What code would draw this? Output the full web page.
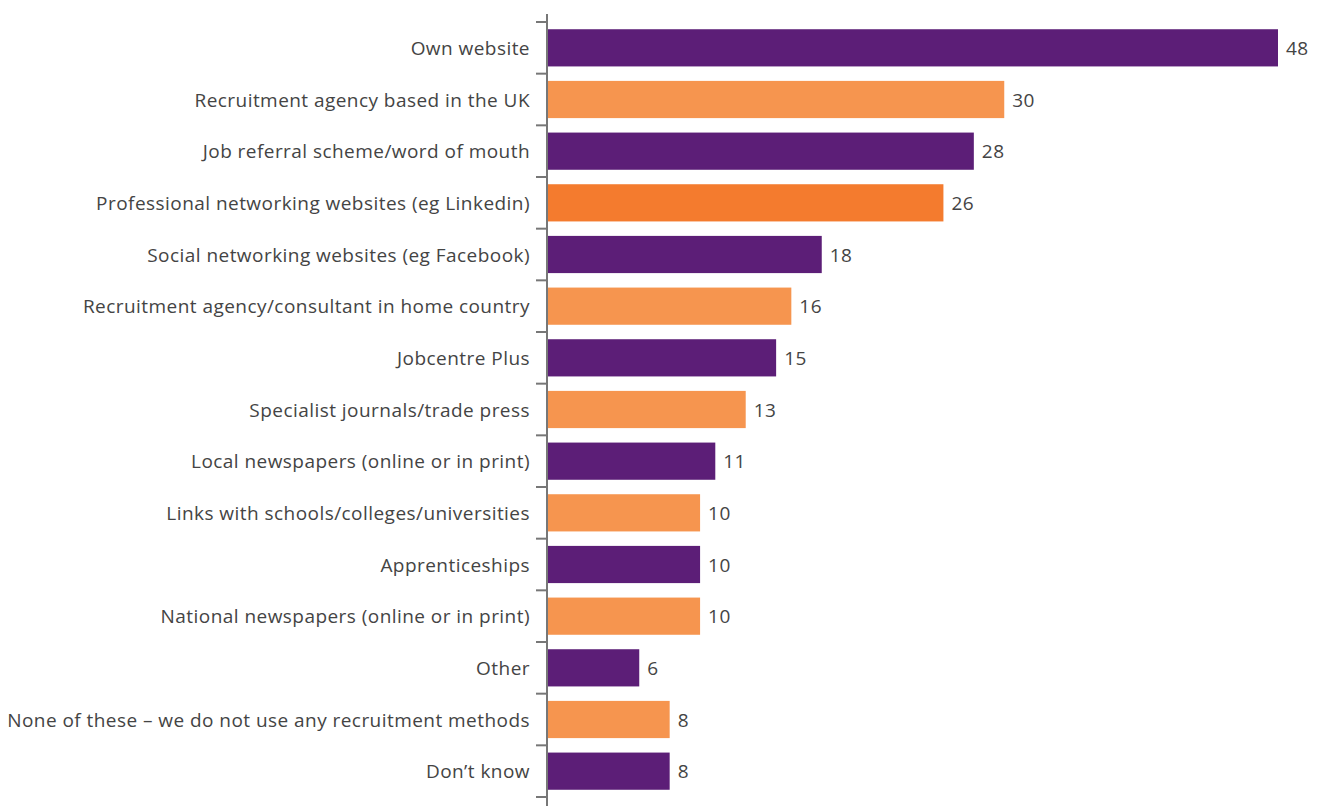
<!DOCTYPE html>
<html>
<head>
<meta charset="utf-8">
<script src="https://cdn.jsdelivr.net/npm/d3@7"></script>
<style>
  body { margin: 0; background: #fff; }
  text { font-family: 'Open Sans', sans-serif; letter-spacing: 0.45px; }
</style>
</head>
<body>
<div id="chart"></div>
<script>
const categories = [
  'Own website',
  'Recruitment agency based in the UK',
  'Job referral scheme/word of mouth',
  'Professional networking websites (eg Linkedin)',
  'Social networking websites (eg Facebook)',
  'Recruitment agency/consultant in home country',
  'Jobcentre Plus',
  'Specialist journals/trade press',
  'Local newspapers (online or in print)',
  'Links with schools/colleges/universities',
  'Apprenticeships',
  'National newspapers (online or in print)',
  'Other',
  'None of these – we do not use any recruitment methods',
  'Don’t know'
]

const values = [48, 30, 28, 26, 18, 16, 15, 13, 11, 10, 10, 10, 6, 8, 8]

// colour group per row
const groups = ['p', 'o', 'p', 'h', 'p', 'o', 'p', 'o', 'p', 'o', 'p', 'o', 'p', 'o', 'p']

const data = categories.map((c, i) => ({ category: c, value: values[i], group: groups[i] }))

const width = 1321
const height = 806
const axisX = 548

const svg = d3
  .select('#chart')
  .append('svg')
  .attr('width', width)
  .attr('height', height)

const colorScale = d3
  .scaleOrdinal()
  .domain(['p', 'o', 'h'])
  .range(['#5c1e77', '#f6954f', '#f47b2e'])

const yPositionScale = d3
  .scaleBand()
  .domain(categories)
  .range([22, 797])
  .paddingInner(0.28)
  .paddingOuter(0.14)

const xPositionScale = d3
  .scaleLinear()
  .domain([0, 48])
  .range([axisX, 1278])

const step = yPositionScale.step()
const gap = step * yPositionScale.paddingInner()

// bars
svg
  .selectAll('.bar')
  .data(data)
  .enter()
  .append('rect')
  .attr('class', 'bar')
  .attr('x', xPositionScale(0))
  .attr('y', d => yPositionScale(d.category))
  .attr('width', d => xPositionScale(d.value) - xPositionScale(0))
  .attr('height', yPositionScale.bandwidth())
  .attr('fill', d => colorScale(d.group))

// value labels
svg
  .selectAll('.value')
  .data(data)
  .enter()
  .append('text')
  .attr('class', 'value')
  .attr('x', d => xPositionScale(d.value) + 8)
  .attr('y', d => yPositionScale(d.category) + yPositionScale.bandwidth() / 2)
  .attr('dy', '0.38em')
  .attr('font-size', 19)
  .attr('fill', '#444')
  .text(d => d.value)

// category labels
svg
  .selectAll('.label')
  .data(data)
  .enter()
  .append('text')
  .attr('class', 'label')
  .attr('x', 530)
  .attr('y', d => yPositionScale(d.category) + yPositionScale.bandwidth() / 2)
  .attr('dy', '0.38em')
  .attr('text-anchor', 'end')
  .attr('font-size', 19)
  .attr('fill', '#444')
  .text(d => d.category)

// axis line and tick marks between categories
svg
  .append('line')
  .attr('x1', axisX - 1)
  .attr('x2', axisX - 1)
  .attr('y1', 14)
  .attr('y2', height)
  .attr('stroke', '#777')
  .attr('stroke-width', 2)

const tickYs = categories.map(c => yPositionScale(c) - gap / 2)
tickYs.push(yPositionScale(categories[categories.length - 1]) + yPositionScale.bandwidth() + gap / 2)

svg
  .selectAll('.tick')
  .data(tickYs)
  .enter()
  .append('line')
  .attr('class', 'tick')
  .attr('x1', axisX - 12)
  .attr('x2', axisX)
  .attr('y1', d => d)
  .attr('y2', d => d)
  .attr('stroke', '#777')
  .attr('stroke-width', 2)
</script>
</body>
</html>
